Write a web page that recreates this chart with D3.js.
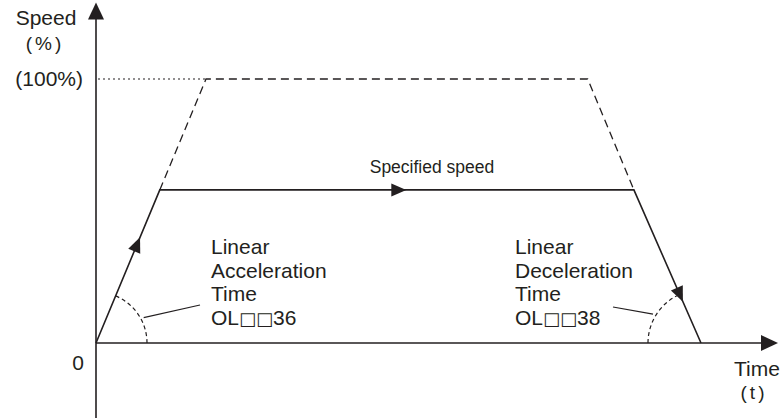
<!DOCTYPE html>
<html>
<head>
<meta charset="utf-8">
<script src="https://cdn.jsdelivr.net/npm/d3@7"></script>
<style>
  body { margin: 0; background: #fff; }
  text { font-family: "Liberation Sans", Arial, Helvetica, sans-serif; fill: #231f20; }
  .carre { font-family: "DejaVu Sans", sans-serif; font-weight: bold; }
</style>
</head>
<body>
<div id="canevas"></div>
<script>

////////////////////////////////////////////////////////////////////////////////////////////
//                                        données                                         //
////////////////////////////////////////////////////////////////////////////////////////////

// profil réel (vitesse spécifiée)
let profil_t = [0, 0.58, 4.89, 5.5];
let profil_v = [0, 58, 58, 0];

// profil théorique à 100% (pointillés)
let max_t = [0.58, 1.0, 4.47, 4.89];
let max_v = [58, 100, 100, 58];

// niveau de référence
let niveau_ref = 100;

// étendue des axes
let axe_t = [0, 6.2];
let axe_v = [-28.5, 129];

// flèches sur le profil : segment et fraction
let fleches_seg = [0, 1, 2];
let fleches_pos = [0.69, 0.52, 0.73];

// textes
let label_y = ["Speed", "(%)"];
let label_x = ["Time", "(t)"];
let label_ref = "(100%)";
let label_zero = "0";
let label_vitesse = "Specified speed";
let label_acc = ["Linear", "Acceleration", "Time", ["OL", "\u25a1\u25a1", "36"]];
let label_dec = ["Linear", "Deceleration", "Time", ["OL", "\u25a1\u25a1", "38"]];


////////////////////////////////////////////////////////////////////////////////////////////
//                                        canevas                                         //
////////////////////////////////////////////////////////////////////////////////////////////

let largeur = 782;
let hauteur = 418;
let encre = "#231f20";

let canevas = d3.select("#canevas")
  .append("svg")
  .attr("width", largeur)
  .attr("height", hauteur);

canevas.append("rect")
  .attr("width", "100%")
  .attr("height", "100%")
  .attr("fill", "#ffffff");

// echelles
let echelleX = d3.scaleLinear()
  .domain([0, 1])
  .range([96, 206]);

let echelleY = d3.scaleLinear()
  .domain([0, 100])
  .range([343, 79]);

let ligne = d3.line()
  .x(d => echelleX(d[0]))
  .y(d => echelleY(d[1]));

let profil = d3.zip(profil_t, profil_v);
let profil_max = d3.zip(max_t, max_v);


////////////////////////////////////////////////////////////////////////////////////////////
//                                        axes                                            //
////////////////////////////////////////////////////////////////////////////////////////////

let x0 = echelleX(0), y0 = echelleY(0);
let xFin = echelleX(axe_t[1]);
let yHaut = echelleY(axe_v[1]);

// axe vertical
canevas.append("line")
  .attr("x1", x0).attr("x2", x0)
  .attr("y1", echelleY(axe_v[0])).attr("y2", yHaut + 14)
  .attr("stroke", encre).attr("stroke-width", 1.6);

canevas.append("path")
  .attr("d", `M${x0},${yHaut} L${x0 - 8},${yHaut + 17} L${x0 + 8},${yHaut + 17} Z`)
  .attr("fill", encre);

// axe horizontal
canevas.append("line")
  .attr("x1", x0).attr("x2", xFin - 14)
  .attr("y1", y0).attr("y2", y0)
  .attr("stroke", encre).attr("stroke-width", 1.6);

canevas.append("path")
  .attr("d", `M${xFin},${y0} L${xFin - 17},${y0 - 8} L${xFin - 17},${y0 + 8} Z`)
  .attr("fill", encre);


////////////////////////////////////////////////////////////////////////////////////////////
//                                        courbes                                         //
////////////////////////////////////////////////////////////////////////////////////////////

// ligne de référence pointillée
canevas.append("line")
  .attr("x1", x0 + 2).attr("x2", echelleX(max_t[1]))
  .attr("y1", echelleY(niveau_ref)).attr("y2", echelleY(niveau_ref))
  .attr("stroke", encre).attr("stroke-width", 1.2)
  .attr("stroke-dasharray", "2,3");

// profil 100% en tirets
canevas.append("path")
  .attr("d", ligne(profil_max))
  .attr("fill", "none")
  .attr("stroke", encre).attr("stroke-width", 1.3)
  .attr("stroke-dasharray", "8,5");

// profil réel
canevas.append("path")
  .attr("d", ligne(profil))
  .attr("fill", "none")
  .attr("stroke", encre).attr("stroke-width", 1.6);

// flèches le long du profil
fleches_seg.forEach(function(s, i){
  let a = profil[s], b = profil[s + 1];
  let xa = echelleX(a[0]), ya = echelleY(a[1]);
  let xb = echelleX(b[0]), yb = echelleY(b[1]);
  let f = fleches_pos[i];
  let px = xa + (xb - xa) * f, py = ya + (yb - ya) * f;
  let angle = Math.atan2(yb - ya, xb - xa) * 180 / Math.PI;
  canevas.append("path")
    .attr("d", "M0,0 L-15,-6.5 L-15,6.5 Z")
    .attr("transform", `translate(${px},${py}) rotate(${angle})`)
    .attr("fill", encre);
});

// arcs d'angle
function arc_angle(p_centre, p_dir, r, horizontal, a_leader, fin_leader){
  let cx = echelleX(p_centre[0]), cy = echelleY(p_centre[1]);
  let dx = echelleX(p_dir[0]) - cx, dy = echelleY(p_dir[1]) - cy;
  let a_ligne = Math.atan2(dy, dx);
  let chemin = d3.path();
  if (horizontal == 0) {
    chemin.arc(cx, cy, r, a_ligne, 0);
  } else {
    chemin.arc(cx, cy, r, Math.PI, a_ligne < 0 ? a_ligne + 2 * Math.PI : a_ligne);
  }
  canevas.append("path")
    .attr("d", chemin.toString())
    .attr("fill", "none")
    .attr("stroke", encre).attr("stroke-width", 1.2)
    .attr("stroke-dasharray", "4,3");
  // trait de rappel
  let a = a_leader * Math.PI / 180;
  canevas.append("line")
    .attr("x1", cx + (r + 3) * Math.cos(a)).attr("y1", cy + (r + 3) * Math.sin(a))
    .attr("x2", fin_leader[0]).attr("y2", fin_leader[1])
    .attr("stroke", encre).attr("stroke-width", 1.2);
}

arc_angle(profil[0], profil[1], 51, 0, -28, [200, 305]);
arc_angle(profil[3], profil[2], 53, 1, 211, [613, 307]);


////////////////////////////////////////////////////////////////////////////////////////////
//                                        textes                                          //
////////////////////////////////////////////////////////////////////////////////////////////

// étiquettes de l'axe vertical
canevas.append("text")
  .attr("x", 46).attr("y", 25)
  .attr("text-anchor", "middle")
  .style("font-size", "21px")
  .text(label_y[0]);

canevas.append("text")
  .attr("x", 45).attr("y", 50)
  .attr("text-anchor", "middle")
  .style("font-size", "19px")
  .style("letter-spacing", "3px")
  .text(label_y[1]);

canevas.append("text")
  .attr("x", 83).attr("y", echelleY(niveau_ref) + 7)
  .attr("text-anchor", "end")
  .style("font-size", "21px")
  .text(label_ref);

canevas.append("text")
  .attr("x", 78).attr("y", y0 + 27)
  .attr("text-anchor", "middle")
  .style("font-size", "21px")
  .text(label_zero);

// étiquettes de l'axe horizontal
canevas.append("text")
  .attr("x", 757).attr("y", 376)
  .attr("text-anchor", "middle")
  .style("font-size", "21px")
  .text(label_x[0]);

canevas.append("text")
  .attr("x", 754).attr("y", 399)
  .attr("text-anchor", "middle")
  .style("font-size", "19px")
  .style("letter-spacing", "3px")
  .text(label_x[1]);

// vitesse spécifiée
canevas.append("text")
  .attr("x", 432).attr("y", 173)
  .attr("text-anchor", "middle")
  .style("font-size", "17.5px")
  .text(label_vitesse);

// blocs de texte accélération / décélération
function bloc(lignes, x, y){
  lignes.forEach(function(l, i){
    let t = canevas.append("text")
      .attr("x", x).attr("y", y + i * 23.5)
      .style("font-size", "21px");
    if (Array.isArray(l)) {
      t.selectAll("tspan")
        .data(l)
        .enter()
        .append("tspan")
          .attr("class", (d, j) => j == 1 ? "carre" : null)
          .style("font-size", (d, j) => j == 1 ? "18px" : null)
          .text(d => d);
    } else {
      t.text(l);
    }
  });
}

bloc(label_acc, 211, 254);
bloc(label_dec, 515, 254);

</script>
</body>
</html>
